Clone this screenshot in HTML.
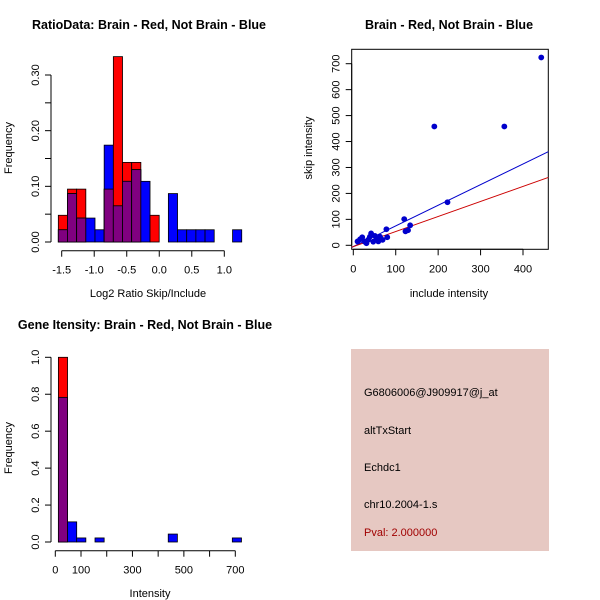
<!DOCTYPE html>
<html><head><meta charset="utf-8"><style>
body{margin:0;background:#fff}
svg{display:block;font-family:"Liberation Sans",Arial,sans-serif}
</style></head><body>
<svg id="c" width="600" height="600" viewBox="0 0 600 600">
<rect x="0" y="0" width="600" height="600" fill="#fff"/>
<text x="149" y="29" font-size="12.5" font-weight="bold" text-anchor="middle">RatioData: Brain - Red, Not Brain - Blue</text>
<text x="449" y="29" font-size="12.5" font-weight="bold" text-anchor="middle">Brain - Red, Not Brain - Blue</text>
<text x="145" y="329" font-size="12.5" font-weight="bold" text-anchor="middle">Gene Itensity: Brain - Red, Not Brain - Blue</text>
<g id="p1"></g>
<g id="p2"></g>
<g id="p3"></g>
<g>
<rect x="351" y="349" width="198" height="202" fill="#e6c8c2"/>
<text x="364" y="396" font-size="11">G6806006@J909917@j_at</text>
<text x="364" y="434" font-size="11">altTxStart</text>
<text x="364" y="471" font-size="11">Echdc1</text>
<text x="364" y="508" font-size="11">chr10.2004-1.s</text>
<text x="364" y="536" font-size="11" fill="#a00000">Pval: 2.000000</text>
</g>
</svg>
<script>
// Ratio histogram data
const ratioStart = -1.552, ratioBinWidth = 0.141;
const ratioRed = [0.048,0.095,0.095,0,0,0.095,0.333,0.143,0.143,0,0.048,0,0,0,0,0,0,0,0,0];
const ratioBlue = [0.022,0.087,0.043,0.043,0.022,0.174,0.065,0.109,0.130,0.109,0,0,0.087,0.022,0.022,0.022,0.022,0,0,0.022];
const ratioXTicks = [-1.5,-1.0,-0.5,0.0,0.5,1.0];
const ratioXLabels = ["-1.5","-1.0","-0.5","0.0","0.5","1.0"];
const ratioYTicks = [0,0.05,0.10,0.15,0.20,0.25,0.30];
const ratioYLabels = ["0.00","","0.10","","0.20","","0.30"];
// Scatter data
const scatterX = [443,191,356,222,120,134,129,123,78,80,10,16,21,27,35,42,39,47,55,63,69,31,51,59];
const scatterY = [724,458,458,166,101,77,58,54,62,31,15,23,31,14,21,46,33,14,23,33,21,8,36,15];
const lineIntercepts = [-5,-5];
const lineSlopes = [0.796,0.58];
const lineColors = ["#0000cc","#cc0000"];
const scatterXTicks = [0,100,200,300,400];
const scatterYTicks = [0,100,200,300,400,500,600,700];
// Intensity histogram data
const intStart = 12, intBinWidth = 35.6;
const intRed = [1.0,0,0,0,0,0,0,0,0,0,0,0,0,0,0,0,0,0,0,0];
const intBlue = [0.783,0.109,0.022,0,0.022,0,0,0,0,0,0,0,0.043,0,0,0,0,0,0,0.022];
const intXTicks = [0,100,200,300,400,500,600,700];
const intXLabels = ["0","100","","300","","500","","700"];
const intYTicks = [0,0.2,0.4,0.6,0.8,1.0];
const intYLabels = ["0.0","0.2","0.4","0.6","0.8","1.0"];

const NS="http://www.w3.org/2000/svg";
function mk(parent,tag,attrs,text){const e=document.createElementNS(NS,tag);for(const k in attrs)e.setAttribute(k,attrs[k]);if(text!==undefined)e.textContent=text;parent.appendChild(e);return e;}
function lin(d0,d1,r0,r1){return v=>r0+(v-d0)*(r1-r0)/(d1-d0);}

function yAxis(g,ax,ys,ticks,labels,name){
  const l=mk(g,'line',{x1:ax,x2:ax,y1:ys(ticks[0]),y2:ys(ticks[ticks.length-1]),stroke:'#000'});
  
  
  ticks.forEach((t,i)=>{
    const tk=mk(g,'line',{x1:ax-6,x2:ax,y1:ys(t),y2:ys(t),stroke:'#000'});
    
    
    if(labels[i]){
      const tx=mk(g,'text',{x:0,y:0,'font-size':11,'text-anchor':'middle',transform:`translate(${ax-12},${ys(t)}) rotate(-90)`},labels[i]);
      
      
    }
  });
}
function xAxis(g,ay,xs,ticks,labels,name){
  const l=mk(g,'line',{x1:xs(ticks[0]),x2:xs(ticks[ticks.length-1]),y1:ay,y2:ay,stroke:'#000'});
  
  
  ticks.forEach((t,i)=>{
    const tk=mk(g,'line',{x1:xs(t),x2:xs(t),y1:ay,y2:ay+6,stroke:'#000'});
    
    
    if(labels[i]){
      const tx=mk(g,'text',{x:xs(t),y:ay+23,'font-size':11,'text-anchor':'middle'},labels[i]);
      
      
    }
  });
}
function hist(g,xs,ys,start,w,red,blue){
  for(let i=0;i<red.length;i++){
    const x0=xs(start+i*w),x1=xs(start+(i+1)*w);
    const mn=Math.min(red[i],blue[i]);
    [[red[i],'#ff0000','bar-red'],[blue[i],'#0000ff','bar-blue'],[mn,'#800080','bar-overlap']].forEach(([v,c,n])=>{
      if(v>0){
        const r=mk(g,'rect',{x:x0,y:ys(v),width:x1-x0,height:ys(0)-ys(v),fill:c,stroke:'#000','stroke-width':0.8});
        
        
      }
    });
  }
}
function axisTitle(g,x,y,txt,rot,name){
  const t=mk(g,'text',{x:0,y:0,'font-size':11,'text-anchor':'middle',transform:`translate(${x},${y})`+(rot?' rotate(-90)':'')},txt);
  
  
}

// Panel 1
(function(){
  const g=document.getElementById('p1');
  const xs=lin(-1.5,1.0,61.7,224.3), ys=lin(0,0.30,242,75);
  hist(g,xs,ys,ratioStart,ratioBinWidth,ratioRed,ratioBlue);
  yAxis(g,51,ys,ratioYTicks,ratioYLabels,'ratio');
  xAxis(g,250.7,xs,ratioXTicks,ratioXLabels,'ratio');
  axisTitle(g,148,297,'Log2 Ratio Skip/Include',false,'ratio-x-title');
  axisTitle(g,12,148,'Frequency',true,'ratio-y-title');
})();
// Panel 2
(function(){
  const g=document.getElementById('p2');
  const xs=lin(0,400,353.3,523), ys=lin(0,700,245.3,63.7);
  const b=mk(g,'rect',{x:351.7,y:49.3,width:196.6,height:200,fill:'none',stroke:'#000'});
  
  
  const xmin=(351.7-353.3)/0.42425, xmax=(548.3-353.3)/0.42425;
  lineSlopes.forEach((s,i)=>{
    const l=mk(g,'line',{x1:xs(xmin),y1:ys(lineIntercepts[i]+s*xmin),x2:xs(xmax),y2:ys(lineIntercepts[i]+s*xmax),stroke:lineColors[i],'stroke-width':1});
    
    
  });
  scatterX.forEach((v,i)=>{
    const c=mk(g,'circle',{cx:xs(v),cy:ys(scatterY[i]),r:2.9,fill:'#0000cc'});
    
    
  });
  yAxis(g,351.7,ys,scatterYTicks,scatterYTicks.map(String),'scatter');
  xAxis(g,249.3,xs,scatterXTicks,scatterXTicks.map(String),'scatter');
  axisTitle(g,449,297,'include intensity',false,'scatter-x-title');
  axisTitle(g,312,148,'skip intensity',true,'scatter-y-title');
})();
// Panel 3
(function(){
  const g=document.getElementById('p3');
  const xs=lin(0,700,55.3,235.3), ys=lin(0,1.0,542,357.3);
  hist(g,xs,ys,intStart,intBinWidth,intRed,intBlue);
  yAxis(g,51,ys,intYTicks,intYLabels,'intensity');
  xAxis(g,550.7,xs,intXTicks,intXLabels,'intensity');
  axisTitle(g,150,597,'Intensity',false,'intensity-x-title');
  axisTitle(g,12,448,'Frequency',true,'intensity-y-title');
})();
</script>
</body></html>
